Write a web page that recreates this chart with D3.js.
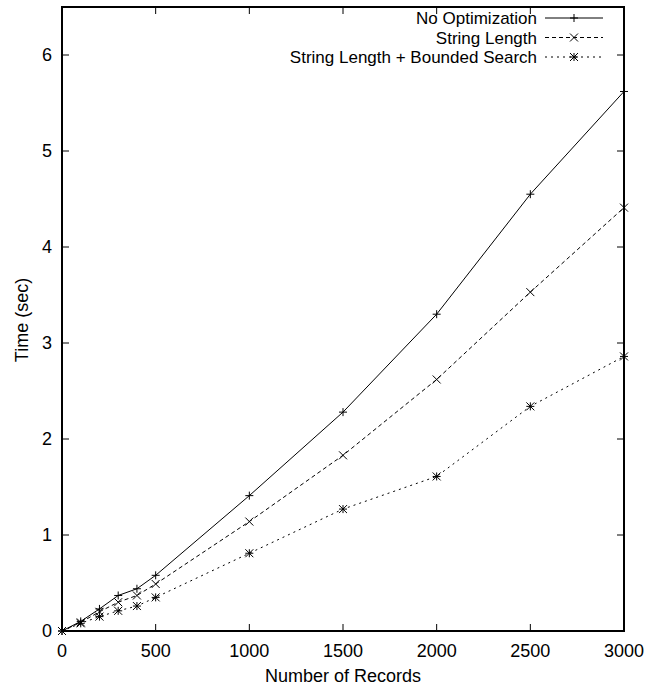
<!DOCTYPE html>
<html><head><meta charset="utf-8">
<script src="https://cdn.jsdelivr.net/npm/d3@7"></script>
<style>body{margin:0;background:#fff}svg{display:block}text{font-family:"Liberation Sans",Arial,Helvetica,sans-serif;fill:#000}</style>
</head><body><svg id="c" width="646" height="688"></svg>
<script>
const records = [0,100,200,300,400,500,1000,1500,2000,2500,3000];
const noOpt   = [0,0.10,0.23,0.37,0.44,0.58,1.41,2.28,3.30,4.55,5.62];
const strLen  = [0,0.09,0.20,0.30,0.37,0.49,1.14,1.83,2.62,3.53,4.41];
const strBnd  = [0,0.08,0.15,0.21,0.26,0.35,0.81,1.27,1.61,2.34,2.86];
const seriesNames = ["No Optimization","String Length","String Length + Bounded Search"];
const xTicks = [0,500,1000,1500,2000,2500,3000];
const yTicks = [0,1,2,3,4,5,6];

const svg = d3.select("#c");
const L=62,R=624,T=7,B=631;
const x = d3.scaleLinear().domain([0,3000]).range([L,R]);
const y = d3.scaleLinear().domain([0,6.5]).range([B,T]);
const fs = 18;

const tk = 7;
const g = svg.append("g").attr("stroke","#000").attr("stroke-width",1);
xTicks.forEach(v=>{
  g.append("line").attr("x1",x(v)).attr("x2",x(v)).attr("y1",B).attr("y2",B-tk);
  g.append("line").attr("x1",x(v)).attr("x2",x(v)).attr("y1",T).attr("y2",T+tk);
});
yTicks.forEach(v=>{
  g.append("line").attr("x1",L).attr("x2",L+tk).attr("y1",y(v)).attr("y2",y(v));
  g.append("line").attr("x1",R).attr("x2",R-tk).attr("y1",y(v)).attr("y2",y(v));
});
xTicks.forEach(v=>svg.append("text").attr("x",x(v)).attr("y",B+26).attr("text-anchor","middle").attr("font-size",fs).text(v));
yTicks.forEach(v=>svg.append("text").attr("x",L-10).attr("y",y(v)+6).attr("text-anchor","end").attr("font-size",fs).text(v));
svg.append("text").attr("x",(L+R)/2).attr("y",682).attr("text-anchor","middle").attr("font-size",fs).text("Number of Records");
svg.append("text").attr("transform",`translate(27.5,320) rotate(-90)`).attr("text-anchor","middle").attr("font-size",fs).text("Time (sec)");

svg.append("rect").attr("x",L).attr("y",T).attr("width",R-L).attr("height",B-T).attr("fill","none").attr("stroke","#000").attr("stroke-width",2);

const dashes = [null,"4,3","2,4"];
const data = [noOpt,strLen,strBnd];
const line = d3.line().x((d,i)=>x(records[i])).y(d=>y(d));
function marker(sel,type,cx,cy){
  const s=4, p=sel.append("path").attr("fill","none").attr("stroke","#000").attr("stroke-width",1);
  let dstr="";
  if(type===0) dstr=`M${cx-s},${cy}H${cx+s}M${cx},${cy-s}V${cy+s}`;
  else if(type===1) dstr=`M${cx-s},${cy-s}L${cx+s},${cy+s}M${cx-s},${cy+s}L${cx+s},${cy-s}`;
  else dstr=`M${cx-s},${cy}H${cx+s}M${cx},${cy-s}V${cy+s}M${cx-s},${cy-s}L${cx+s},${cy+s}M${cx-s},${cy+s}L${cx+s},${cy-s}`;
  p.attr("d",dstr);
}
data.forEach((arr,k)=>{
  const p=svg.append("path").datum(arr).attr("d",line).attr("fill","none").attr("stroke","#000").attr("stroke-width",1);
  if(dashes[k]) p.attr("stroke-dasharray",dashes[k]);
  arr.forEach((v,i)=>marker(svg,k,x(records[i]),y(v)));
});
const ly=[18,37.5,57];
const lfs = 17;
seriesNames.forEach((n,k)=>{
  svg.append("text").attr("x",537).attr("y",ly[k]+6).attr("text-anchor","end").attr("font-size",lfs).text(n);
  const l=svg.append("line").attr("x1",545).attr("x2",603).attr("y1",ly[k]).attr("y2",ly[k]).attr("stroke","#000").attr("stroke-width",1);
  if(dashes[k]) l.attr("stroke-dasharray",dashes[k]);
  marker(svg,k,574,ly[k]);
});
</script></body></html>
